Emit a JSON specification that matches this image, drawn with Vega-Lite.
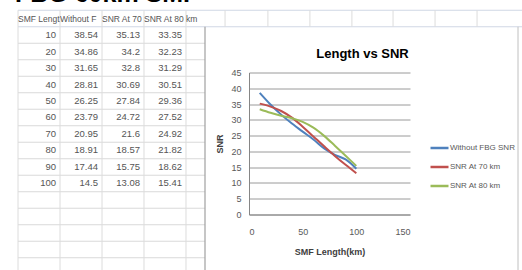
{
  "$schema": "https://vega.github.io/schema/vega-lite/v6.json",
  "padding": {"left": 0, "top": -18.5, "right": 0, "bottom": 0},
  "background": "white",
  "bounds": "flush",
  "spacing": 44,
  "config": {"view": {"stroke": null}, "font": "Liberation Sans, sans-serif"},
  "datasets": {
    "snr": [
      {"len": 10, "without": 38.54, "at70": 35.13, "at80": 33.35},
      {"len": 20, "without": 34.86, "at70": 34.2, "at80": 32.23},
      {"len": 30, "without": 31.65, "at70": 32.8, "at80": 31.29},
      {"len": 40, "without": 28.81, "at70": 30.69, "at80": 30.51},
      {"len": 50, "without": 26.25, "at70": 27.84, "at80": 29.36},
      {"len": 60, "without": 23.79, "at70": 24.72, "at80": 27.52},
      {"len": 70, "without": 20.95, "at70": 21.6, "at80": 24.92},
      {"len": 80, "without": 18.91, "at70": 18.57, "at80": 21.82},
      {"len": 90, "without": 17.44, "at70": 15.75, "at80": 18.62},
      {"len": 100, "without": 14.5, "at70": 13.08, "at80": 15.41}
    ],
    "hdr": [
      {"col": 0, "label": "SMF Lengt"},
      {"col": 1, "label": "Without F"},
      {"col": 2, "label": "SNR At 70"},
      {"col": 3, "label": "SNR At 80 km"}
    ],
    "rowEdgesTop": [{"e": -5}, {"e": 5}],
    "rowEdges": [{"e": 15}, {"e": 25}, {"e": 35}, {"e": 45}, {"e": 55}, {"e": 65}, {"e": 75}, {"e": 85}, {"e": 95}, {"e": 105}, {"e": 115}, {"e": 125}, {"e": 135}, {"e": 145}, {"e": 155}],
    "colEdges": [{"c": 0}, {"c": 1}, {"c": 2}, {"c": 3}, {"c": 4}],
    "colEdgesTop": [{"c": 4.93}, {"c": 5.95}, {"c": 6.95}, {"c": 7.95}, {"c": 8.93}, {"c": 9.93}, {"c": 10.93}]
  },
  "hconcat": [
    {
      "width": 205,
      "height": 142,
      "layer": [
        {
          "data": {"name": "rowEdgesTop"},
          "mark": {"type": "rule", "color": "#d0d7e5", "strokeWidth": 1},
          "encoding": {
            "y": {"field": "e", "type": "quantitative", "scale": {"domain": [32.727, 118.79], "reverse": true, "nice": false, "zero": false}, "axis": null},
            "x": {"datum": 0, "type": "quantitative", "scale": {"domain": [-0.4286, 4.4524], "nice": false, "zero": false}, "axis": null},
            "x2": {"datum": 12}
          }
        },
        {
          "data": {"name": "rowEdges"},
          "mark": {"type": "rule", "color": "#d9d9d9", "strokeWidth": 1},
          "encoding": {
            "y": {"field": "e", "type": "quantitative"},
            "x": {"datum": 0, "type": "quantitative"},
            "x2": {"datum": 4.4524}
          }
        },
        {
          "data": {"name": "colEdges"},
          "mark": {"type": "rule", "color": "#dcdcdc", "strokeWidth": 1},
          "encoding": {
            "x": {"field": "c", "type": "quantitative"},
            "y": {"datum": -5, "type": "quantitative"},
            "y2": {"datum": 165}
          }
        },
        {
          "data": {"name": "colEdgesTop"},
          "mark": {"type": "rule", "color": "#dcdcdc", "strokeWidth": 1},
          "encoding": {
            "x": {"field": "c", "type": "quantitative"},
            "y": {"datum": -5, "type": "quantitative"},
            "y2": {"datum": 5}
          }
        },
        {
          "data": {"values": [{}]},
          "mark": {"type": "rule", "color": "#a0a0a0", "strokeWidth": 1.2},
          "encoding": {
            "x": {"datum": 4.4524, "type": "quantitative"},
            "y": {"datum": 5, "type": "quantitative"},
            "y2": {"datum": 165}
          }
        },
        {
          "data": {"values": [{}]},
          "mark": {"type": "rule", "color": "#c0c0c0", "strokeWidth": 1},
          "encoding": {
            "x": {"datum": 11.905, "type": "quantitative"},
            "y": {"datum": 5, "type": "quantitative"},
            "y2": {"datum": 165}
          }
        },
        {
          "data": {"values": [{"heading": "FBG 60km SMF"}]},
          "mark": {"type": "text", "align": "left", "baseline": "alphabetic", "dx": -3, "fontSize": 25, "fontWeight": "bold", "color": "#000000"},
          "encoding": {
            "x": {"datum": 0, "type": "quantitative"},
            "y": {"datum": -10, "type": "quantitative"},
            "text": {"field": "heading", "type": "nominal"}
          }
        },
        {
          "data": {"name": "hdr"},
          "mark": {"type": "text", "align": "left", "baseline": "middle", "dx": 0, "fontSize": 8.5, "color": "#555555"},
          "encoding": {
            "x": {"field": "col", "type": "quantitative"},
            "y": {"datum": 0, "type": "quantitative"},
            "text": {"field": "label", "type": "nominal"}
          }
        },
        {
          "data": {"name": "snr"},
          "mark": {"type": "text", "align": "right", "baseline": "middle", "dx": -4, "fontSize": 9.5, "color": "#555555"},
          "encoding": {
            "x": {"datum": 1, "type": "quantitative"},
            "y": {"field": "len", "type": "quantitative"},
            "text": {"field": "len", "type": "nominal"}
          }
        },
        {
          "data": {"name": "snr"},
          "mark": {"type": "text", "align": "right", "baseline": "middle", "dx": -4, "fontSize": 9.5, "color": "#555555"},
          "encoding": {
            "x": {"datum": 2, "type": "quantitative"},
            "y": {"field": "len", "type": "quantitative"},
            "text": {"field": "without", "type": "nominal"}
          }
        },
        {
          "data": {"name": "snr"},
          "mark": {"type": "text", "align": "right", "baseline": "middle", "dx": -4, "fontSize": 9.5, "color": "#555555"},
          "encoding": {
            "x": {"datum": 3, "type": "quantitative"},
            "y": {"field": "len", "type": "quantitative"},
            "text": {"field": "at70", "type": "nominal"}
          }
        },
        {
          "data": {"name": "snr"},
          "mark": {"type": "text", "align": "right", "baseline": "middle", "dx": -4, "fontSize": 9.5, "color": "#555555"},
          "encoding": {
            "x": {"datum": 4, "type": "quantitative"},
            "y": {"field": "len", "type": "quantitative"},
            "text": {"field": "at80", "type": "nominal"}
          }
        }
      ]
    },
    {
      "width": 161,
      "height": 142,
      "title": {"text": "Length vs SNR", "fontSize": 13, "fontWeight": "bold", "color": "#000000", "anchor": "middle", "frame": "group", "dx": 33, "offset": 8},
      "data": {"name": "snr"},
      "transform": [{"fold": ["without", "at70", "at80"], "as": ["series", "snr"]}],
      "mark": {"type": "line", "interpolate": "catmull-rom", "strokeWidth": 2},
      "encoding": {
        "x": {
          "field": "len", "type": "quantitative",
          "scale": {"domain": [0, 150], "nice": false},
          "axis": {"values": [0, 50, 100, 150], "grid": false, "ticks": false, "domainColor": "#868686", "labelColor": "#595959", "labelFontSize": 9, "labelPadding": 13, "title": "SMF Length(km)", "titleFontSize": 9, "titleFontWeight": "bold", "titleColor": "#404040", "titlePadding": 11}
        },
        "y": {
          "field": "snr", "type": "quantitative",
          "scale": {"domain": [0, 45], "nice": false},
          "axis": {"values": [0, 5, 10, 15, 20, 25, 30, 35, 40, 45], "grid": true, "gridColor": "#9a9a9a", "ticks": false, "domainColor": "#868686", "labelColor": "#595959", "labelFontSize": 9, "labelPadding": 8, "title": "SNR", "titleFontSize": 9, "titleFontWeight": "bold", "titleColor": "#404040", "titlePadding": 6}
        },
        "color": {
          "field": "series", "type": "nominal",
          "scale": {"domain": ["without", "at70", "at80"], "range": ["#4f81bd", "#c0504d", "#9bbb59"]},
          "legend": {
            "orient": "none", "legendX": 429, "legendY": 65, "title": null, "padding": 0,
            "symbolType": "stroke", "symbolSize": 324, "symbolStrokeWidth": 2.5,
            "labelFontSize": 8, "labelColor": "#595959", "labelOffset": 0, "rowPadding": 3,
            "labelExpr": "datum.value == 'without' ? 'Without FBG SNR' : (datum.value == 'at70' ? 'SNR At 70 km' : 'SNR At 80 km')"
          }
        }
      }
    }
  ]
}
